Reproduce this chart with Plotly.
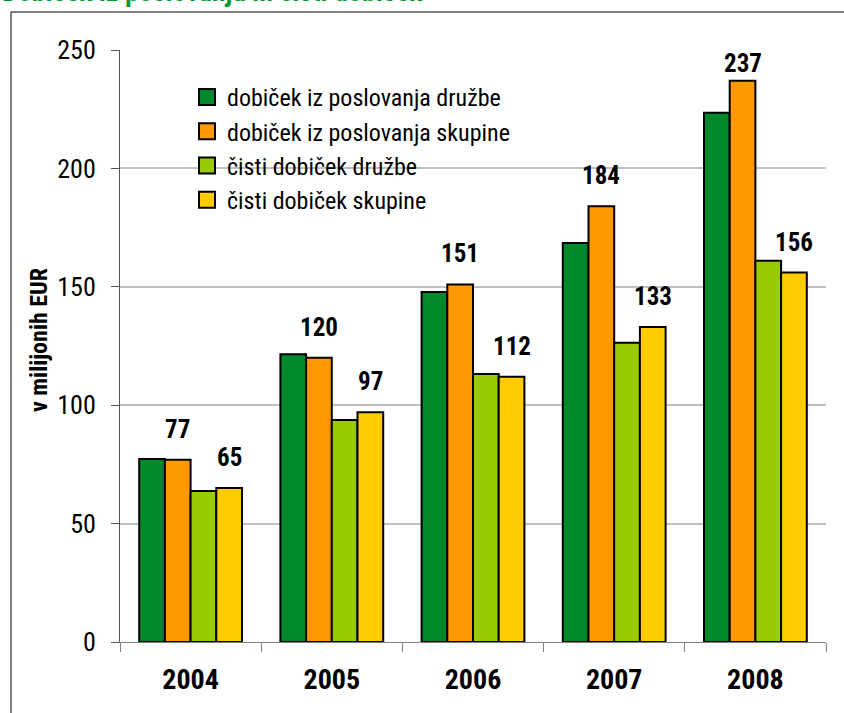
import plotly.graph_objects as go

years = ["2004", "2005", "2006", "2007", "2008"]
op_druzbe = [77.3, 121.5, 147.8, 168.5, 223.5]
op_skupine = [77, 120, 151, 184, 237]
cisti_druzbe = [63.8, 93.7, 113.2, 126.4, 161]
cisti_skupine = [65, 97, 112, 133, 156]

names = ["dobiček iz poslovanja družbe", "dobiček iz poslovanja skupine",
         "čisti dobiček družbe", "čisti dobiček skupine"]
series = [op_druzbe, op_skupine, cisti_druzbe, cisti_skupine]
colors = ["#00892B", "#FF9900", "#99CC00", "#FFCC00"]
labelled = [False, True, False, True]

W, H = 844, 713
L, R, T, B = 120, 18, 50, 71
pw, ph = W - L - R, H - T - B
YMAX = 250
BARGAP = 0.272

FONT = "Roboto Condensed, Liberation Sans, Arial, sans-serif"

def px2x(px):
    return (px - L) / pw

def px2y(py):
    return (H - B - py) / ph

fig = go.Figure()
for nm, vals, col in zip(names, series, colors):
    fig.add_trace(go.Bar(x=years, y=vals, name=nm, marker_color=col,
                         marker_line_color="black", marker_line_width=2,
                         showlegend=False))
    fig.add_trace(go.Scatter(x=[None], y=[None], mode="markers", name=nm,
                             marker=dict(symbol="square", size=16, color=col,
                                         line=dict(color="black", width=2))))

nser = len(series)
bw = (1 - BARGAP) / nser
pxu = ph / YMAX
annotations = []
for k, (vals, lab) in enumerate(zip(series, labelled)):
    if not lab:
        continue
    off = -(1 - BARGAP) / 2 + bw * (k + 0.5)
    for i, v in enumerate(vals):
        room = (YMAX - v) * pxu
        gap = min(19, room - 18 - 7)
        annotations.append(dict(x=i + off, y=v, xref="x", yref="y", text=f"<b>{v}</b>",
                                showarrow=False, yanchor="bottom",
                                yshift=gap - 5,
                                font=dict(family=FONT, size=25, color="black")))

annotations.append(dict(x=px2x(0), y=px2y(10), xref="paper", yref="paper",
                        xanchor="left", yanchor="bottom", showarrow=False,
                        text="<b>Dobiček iz poslovanja in čisti dobiček</b>",
                        font=dict(family=FONT, size=28, color="#009933")))

annotations.append(dict(x=px2x(39), y=px2y(340), xref="paper", yref="paper",
                        xanchor="center", yanchor="middle", showarrow=False,
                        textangle=-90, text="<b>v milijonih EUR</b>",
                        font=dict(family=FONT, size=24, color="black")))

fig.update_layout(
    width=W, height=H,
    margin=dict(l=L, r=R, t=T, b=B),
    paper_bgcolor="white", plot_bgcolor="white",
    barmode="group", bargap=BARGAP, bargroupgap=0,
    font=dict(family=FONT, color="black"),
    annotations=annotations,
    shapes=[dict(type="rect", xref="paper", yref="paper",
                 x0=px2x(11), x1=px2x(860), y0=px2y(730), y1=px2y(12),
                 line=dict(color="black", width=1), fillcolor="rgba(0,0,0,0)",
                 layer="below")],
    legend=dict(x=px2x(187), y=px2y(75), xanchor="left", yanchor="top",
                bgcolor="rgba(0,0,0,0)", font=dict(family=FONT, size=24),
                tracegroupgap=0),
    xaxis=dict(type="category", showline=True, linecolor="#808080", linewidth=1,
               ticks="outside", tickson="boundaries", ticklen=9, tickcolor="#808080",
               tickfont=dict(family=FONT, size=28, color="black"),
               ticklabelstandoff=12, showgrid=False,
               tickvals=years, ticktext=[f"<b>{y}</b>" for y in years]),
    yaxis=dict(range=[0, YMAX], dtick=50, showline=True, linecolor="#555555",
               linewidth=1, ticks="outside", ticklen=8, tickcolor="#555555",
               showgrid=True, gridcolor="#C0C0C0", gridwidth=2, zeroline=False,
               tickfont=dict(family=FONT, size=26, color="black"),
               ticklabelstandoff=10),
)

fig.write_html("out.html", config={"displayModeBar": False},
               post_script="document.body.style.margin='0';")
